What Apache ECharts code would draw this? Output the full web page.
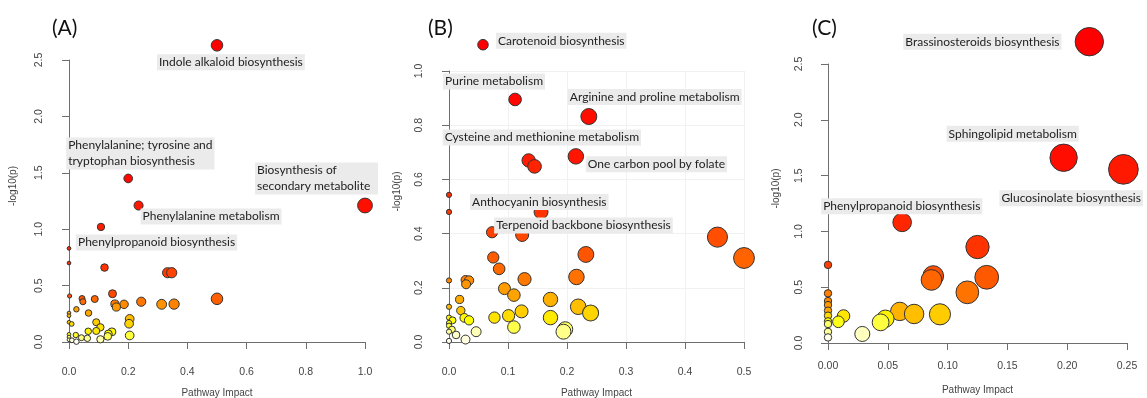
<!DOCTYPE html>
<html>
<head>
<meta charset="utf-8">
<script src="https://cdn.jsdelivr.net/npm/echarts@6/dist/echarts.min.js"></script>
<style>
  html, body { margin: 0; padding: 0; background: #fff; }
  #chart { width: 1147px; height: 398px; }
</style>
</head>
<body>
<div id="chart"></div>
<script>
// Pathway topology summaries: [pathway impact, -log10(p)] per pathway.
// Labelled pathways come first in each list, in the order of the label names.
const panelTitles = ['(A)', '(B)', '(C)'];
const xAxisTitle = 'Pathway Impact';
const yAxisTitle = '-log10(p)';

const pathwaysA = [
  [0.5, 2.63], [0.2, 1.45], [1.0, 1.21], [0.235, 1.21], [0.108, 1.02],
  [0, 0.83], [0, 0.70], [0.12, 0.66], [0.333, 0.614], [0.347, 0.614],
  [0.147, 0.428], [0.002, 0.408], [0.044, 0.385], [0.5, 0.383], [0.087, 0.381],
  [0.047, 0.357], [0.244, 0.357], [0.155, 0.337], [0.355, 0.336], [0.186, 0.334],
  [0.313, 0.334], [0.16, 0.31], [0.025, 0.29], [0.066, 0.257], [0, 0.257],
  [0, 0.233], [0.205, 0.205], [0, 0.175], [0.092, 0.175], [0.203, 0.162],
  [0.009, 0.16], [0.106, 0.13], [0.092, 0.098], [0.065, 0.095], [0.145, 0.09],
  [0.133, 0.072], [0, 0.068], [0.023, 0.062], [0.205, 0.058], [0.131, 0.05],
  [0, 0.044], [0.042, 0.038], [0.062, 0.033], [0.106, 0.024], [0, 0.02],
  [0.01, 0.015], [0.025, 0.003]
];
const namesA = [
  'Indole alkaloid biosynthesis',
  'Phenylalanine; tyrosine and\ntryptophan biosynthesis',
  'Biosynthesis of\nsecondary metabolites',
  'Phenylalanine metabolism',
  'Phenylpropanoid biosynthesis'
];

const pathwaysB = [
  [0.0576, 1.097], [0.112, 0.895], [0.237, 0.832], [0.135, 0.67], [0.215, 0.685],
  [0.156, 0.48], [0.124, 0.395],
  [0.145, 0.648], [0, 0.543], [0, 0.48], [0.073, 0.405], [0.455, 0.387],
  [0.232, 0.323], [0.075, 0.312], [0.5, 0.31], [0.085, 0.27], [0.216, 0.24],
  [0.128, 0.232], [0.028, 0.229], [0, 0.227], [0.034, 0.227], [0.029, 0.213],
  [0.094, 0.197], [0.11, 0.173], [0.018, 0.157], [0.172, 0.157], [0, 0.13],
  [0.219, 0.13], [0.02, 0.116], [0.123, 0.113], [0.24, 0.107], [0.101, 0.097],
  [0.077, 0.09], [0.172, 0.09], [0.026, 0.089], [0, 0.09], [0.034, 0.08],
  [0.006, 0.08], [0, 0.07], [0, 0.06], [0.11, 0.055], [0.197, 0.047],
  [0.005, 0.046], [0.194, 0.038], [0, 0.038], [0.046, 0.038], [0.012, 0.026],
  [0.028, 0.009], [0, 0.004]
];
const namesB = [
  'Carotenoid biosynthesis',
  'Purine metabolism',
  'Arginine and proline metabolism',
  'Cysteine and methionine metabolism',
  'One carbon pool by folate',
  'Anthocyanin biosynthesis',
  'Terpenoid backbone biosynthesis'
];

const pathwaysC = [
  [0.2185, 2.70], [0.197, 1.66], [0.247, 1.556], [0.062, 1.081],
  [0.125, 0.86], [0, 0.70], [0.088, 0.60], [0.1327, 0.589], [0.0865, 0.565],
  [0.1165, 0.454], [0, 0.445], [0, 0.376], [0, 0.34], [0, 0.29], [0.06, 0.283],
  [0.072, 0.26], [0.0936, 0.257], [0, 0.245], [0.013, 0.242], [0.048, 0.218],
  [0, 0.194], [0.0087, 0.19], [0.044, 0.185], [0, 0.17], [0, 0.10],
  [0.0287, 0.081], [0, 0.05]
];
const namesC = [
  'Brassinosteroids biosynthesis',
  'Sphingolipid metabolism',
  'Glucosinolate biosynthesis',
  'Phenylpropanoid biosynthesis'
];

// Axis ticks per panel
const xTicksA = [0, 0.2, 0.4, 0.6, 0.8, 1.0];
const yTicksA = [0, 0.5, 1.0, 1.5, 2.0, 2.5];
const xTicksB = [0, 0.1, 0.2, 0.3, 0.4, 0.5];
const yTicksB = [0, 0.2, 0.4, 0.6, 0.8, 1.0];
const xTicksC = [0, 0.05, 0.10, 0.15, 0.20, 0.25];
const yTicksC = [0, 0.5, 1.0, 1.5, 2.0, 2.5];

// Panel layout: grid spans the tick range, axes sit a little outside it
const layout = [
  { points: pathwaysA, names: namesA, xTicks: xTicksA, yTicks: yTicksA, xDec: 1, yDec: 1,
    left: 69, top: 60, width: 296, height: 282, xOff: 11, yOff: 11,
    xMargin: 14, yMargin: 13, xGap: 35, yGap: 40, grid: false,
    titleLeft: 52, labelOffsets: [[-60, 17], [-62, -25], [-110, -27], [2, 11], [-25, 15.5]],
    clipWidth: [null, null, 119, null, null] },
  { points: pathwaysB, names: namesB, xTicks: xTicksB, yTicks: yTicksB, xDec: 1, yDec: 1,
    left: 449, top: 71, width: 295, height: 271, xOff: 11, yOff: 14,
    xMargin: 14, yMargin: 10, xGap: 35, yGap: 33, grid: true,
    titleLeft: 428, labelOffsets: [[13, -4], [-72, -18], [-21, -19.5], [-86, -23], [10, 8], [-71, -10], [-28, -9.5]],
    clipWidth: [] },
  { points: pathwaysC, names: namesC, xTicks: xTicksC, yTicks: yTicksC, xDec: 2, yDec: 1,
    left: 828, top: 64, width: 299, height: 279, xOff: 8, yOff: 11,
    xMargin: 10, yMargin: 12, xGap: 34, yGap: 36, grid: false,
    titleLeft: 812, labelOffsets: [[-186, 0], [-117, -24], [-124, 29], [-81, -16]],
    clipWidth: [] }
];

// R-style heat palette: red -> yellow, then yellow fading towards white
function heatColors(n) {
  const j = Math.floor(n / 4), i = n - j;
  const hsv = (h, s) => {
    const f = Math.min(h * 6, 1);
    const r = 255, g = Math.round(255 * (1 - s * (1 - f))), b = Math.round(255 * (1 - s));
    return `rgb(${r},${g},${b})`;
  };
  const out = [];
  for (let k = 0; k < i; k++) out.push(hsv(i > 1 ? (k / (i - 1)) / 6 : 0, 1));
  for (let k = 0; k < j; k++) {
    const s0 = 1 - 1 / (2 * j), s1 = 1 / (2 * j);
    out.push(hsv(1 / 6, j > 1 ? s0 + (s1 - s0) * k / (j - 1) : s0));
  }
  return out;
}

const labelFont = 'Lato, "Open Sans", sans-serif';
const axisFont = '"Liberation Sans", Arial, sans-serif';

const grids = [], xAxes = [], yAxes = [], series = [], titles = [];

layout.forEach((p, gi) => {
  const xMax = p.xTicks[p.xTicks.length - 1];
  const yMax = p.yTicks[p.yTicks.length - 1];
  const pxPerX = p.width / xMax;

  grids.push({ left: p.left, top: p.top, width: p.width, height: p.height, outerBoundsMode: 'none', containLabel: false });

  const lineStyle = { color: '#6e6e6e', width: 1 };
  xAxes.push({
    gridIndex: gi, type: 'value', min: 0, max: xMax, interval: p.xTicks[1] - p.xTicks[0],
    offset: p.xOff,
    axisLine: { show: true, lineStyle },
    axisTick: { show: true, length: 7, inside: false, lineStyle },
    axisLabel: { margin: p.xMargin, color: '#444', fontSize: 10.5, fontFamily: axisFont,
                 formatter: v => v.toFixed(p.xDec) },
    splitLine: { show: p.grid, lineStyle: { color: '#f1f1f1', width: 1 } },
    name: xAxisTitle, nameLocation: 'middle', nameGap: p.xGap, nameMoveOverlap: false,
    nameTextStyle: { color: '#444', fontSize: 10, fontFamily: axisFont }
  });
  yAxes.push({
    gridIndex: gi, type: 'value', min: 0, max: yMax, interval: p.yTicks[1] - p.yTicks[0],
    offset: p.yOff,
    axisLine: { show: true, lineStyle },
    axisTick: { show: true, length: 7, inside: false, lineStyle },
    axisLabel: { margin: p.yMargin, rotate: 90, align: 'center', verticalAlign: 'bottom',
                 color: '#444', fontSize: 10.5, fontFamily: axisFont,
                 formatter: v => v.toFixed(p.yDec) },
    splitLine: { show: p.grid, lineStyle: { color: '#f1f1f1', width: 1 } },
    name: yAxisTitle, nameLocation: 'middle', nameGap: p.yGap, nameRotate: 90, nameMoveOverlap: false,
    nameTextStyle: { color: '#444', fontSize: 10, fontFamily: axisFont, padding: [0, 0, 0, 30] }
  });

  // Circles are drawn from highest -log10(p) down, coloured by that rank;
  // radius follows sqrt(impact).
  const items = p.points.map((v, idx) => ({ v, idx }));
  items.sort((a, b) => b.v[1] - a.v[1]);
  const colors = heatColors(items.length);
  const sq = p.points.map(v => Math.sqrt(v[0]));
  const minS = Math.min(...sq), maxS = Math.max(...sq);
  const maxR = (maxS - minS) / 40, minR = (maxS - minS) / 160;

  const data = items.map((it, k) => {
    const r = minR + (maxR - minR) * (Math.sqrt(it.v[0]) - minS) / (maxS - minS);
    const d = { value: it.v, symbolSize: 2 * r * pxPerX, itemStyle: { color: colors[k] } };
    if (it.idx < p.names.length) {
      const w = p.clipWidth[it.idx];
      d.label = {
        show: true, position: 'inside', formatter: p.names[it.idx],
        offset: p.labelOffsets[it.idx], align: 'left', verticalAlign: 'middle',
        color: '#222', fontSize: 12, fontFamily: labelFont, lineHeight: 16,
        backgroundColor: '#ebebeb', padding: [0, 2, 0, 2], textBorderWidth: 0,
        width: w || undefined, overflow: w ? 'truncate' : 'none', ellipsis: ''
      };
    }
    return d;
  });

  series.push({
    type: 'scatter', xAxisIndex: gi, yAxisIndex: gi, clip: false,
    symbol: 'circle', data,
    itemStyle: { borderColor: '#333', borderWidth: 1, opacity: 1 },
    emphasis: { disabled: true },
    z: 2
  });

  titles.push({
    text: panelTitles[gi], left: p.titleLeft, top: 18, padding: 0,
    textStyle: { fontSize: 21, fontWeight: 'normal', color: '#111', fontFamily: labelFont }
  });
});

const chart = echarts.init(document.getElementById('chart'), null, { renderer: 'canvas' });
chart.setOption({
  animation: false,
  backgroundColor: '#fff',
  title: titles,
  grid: grids,
  xAxis: xAxes,
  yAxis: yAxes,
  series
});
</script>
</body>
</html>
